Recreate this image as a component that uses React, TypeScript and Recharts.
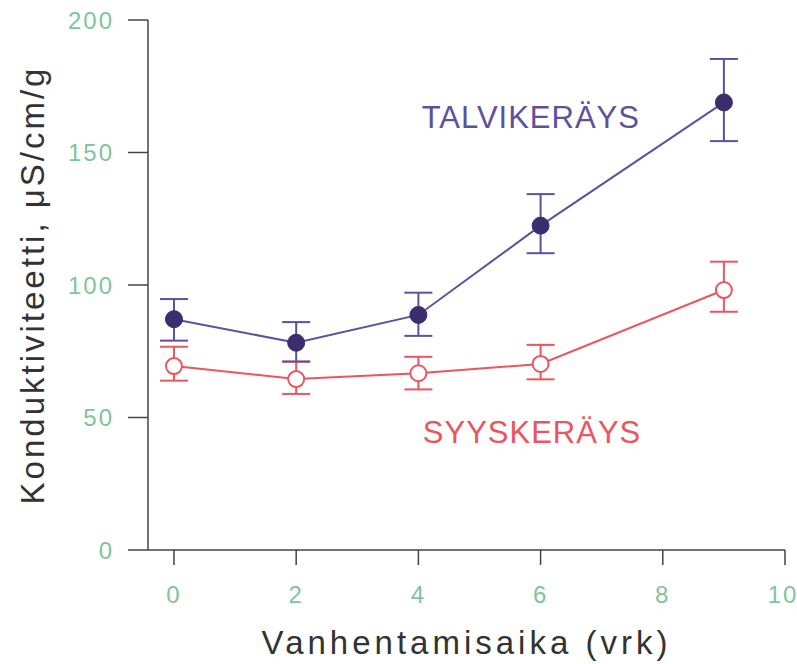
import React from 'react';
import {
  LineChart, Line, XAxis, YAxis, ErrorBar, ReferenceDot, Label
} from 'recharts';

// aging time (days)
const days = [0, 2, 4, 6, 9];

// winter collection (TALVIKERÄYS): mean, lower and upper whisker
const talviMean = [87.1, 78.2, 88.7, 122.4, 168.9];
const talviLow = [79.0, 71.1, 80.8, 112.0, 154.3];
const talviHigh = [94.7, 86.0, 97.1, 134.3, 185.3];

// autumn collection (SYYSKERÄYS)
const syysMean = [69.4, 64.5, 66.7, 70.2, 98.1];
const syysLow = [63.9, 58.9, 60.6, 64.4, 89.9];
const syysHigh = [76.7, 71.1, 72.9, 77.4, 108.8];

const xTicks = [0, 2, 4, 6, 8, 10];
const yTicks = [0, 50, 100, 150, 200];

const PURPLE = '#5d519e';
const PURPLE_DARK = '#3a2e6f';
const RED = '#ea5560';
const GREEN = '#7fc49c';
const AXIS = '#444';

const data = days.map((d, i) => ({
  day: d,
  talvi: talviMean[i],
  talviErr: [talviMean[i] - talviLow[i], talviHigh[i] - talviMean[i]],
  syys: syysMean[i],
  syysErr: [syysMean[i] - syysLow[i], syysHigh[i] - syysMean[i]],
}));

const FONT = 'Liberation Sans, Arial, sans-serif';
const tickFont = { fontFamily: FONT, fontSize: 24, fill: GREEN, letterSpacing: 2 };
const titleFont = { fontFamily: FONT, fontSize: 33, fill: '#333' };

export default function App() {
  return (
    <div style={{ position: 'absolute', left: 0, top: 0, background: '#fff' }}>
      <LineChart width={797} height={664} data={data} margin={{ top: 20, right: 12, bottom: 0, left: 0 }}>
        <XAxis
          dataKey="day"
          type="number"
          domain={[-0.425, 10]}
          ticks={xTicks}
          allowDataOverflow
          height={114}
          tickSize={15}
          tickMargin={21}
          tick={tickFont}
          stroke={AXIS}
          strokeWidth={1.5}
        >
          <Label value="Vanhentamisaika (vrk)" position="insideBottom" offset={10}
            style={{ ...titleFont, letterSpacing: 4 }} />
        </XAxis>
        <YAxis
          type="number"
          domain={[0, 200]}
          ticks={yTicks}
          width={148}
          tickSize={20}
          tickMargin={14}
          tick={tickFont}
          stroke={AXIS}
          strokeWidth={1.5}
        >
          <Label
            value="Konduktiviteetti, μS/cm/g"
            angle={-90}
            position="insideLeft"
            offset={32}
            style={{ ...titleFont, letterSpacing: 3, textAnchor: 'middle' }}
          />
        </YAxis>

        <Line
          dataKey="syys"
          stroke={RED}
          strokeWidth={2}
          isAnimationActive={false}
          dot={{ r: 8, fill: '#fff', stroke: RED, strokeWidth: 2 }}
          activeDot={false}
        >
          <ErrorBar dataKey="syysErr" direction="y" width={14} stroke={RED} strokeWidth={2} />
        </Line>
        <Line
          dataKey="talvi"
          stroke={PURPLE}
          strokeWidth={2}
          isAnimationActive={false}
          dot={{ r: 8.5, fill: PURPLE_DARK, stroke: PURPLE_DARK, strokeWidth: 1 }}
          activeDot={false}
        >
          <ErrorBar dataKey="talviErr" direction="y" width={14} stroke={PURPLE} strokeWidth={2} />
        </Line>

        <ReferenceDot x={5.84} y={163.4} r={0} stroke="none" fill="none"
          label={{ value: 'TALVIKERÄYS', position: 'center', style: { ...titleFont, fill: PURPLE, fontSize: 31, letterSpacing: 1 } }} />
        <ReferenceDot x={5.86} y={44.5} r={0} stroke="none" fill="none"
          label={{ value: 'SYYSKERÄYS', position: 'center', style: { ...titleFont, fill: RED, fontSize: 31, letterSpacing: 1 } }} />
      </LineChart>
    </div>
  );
}
